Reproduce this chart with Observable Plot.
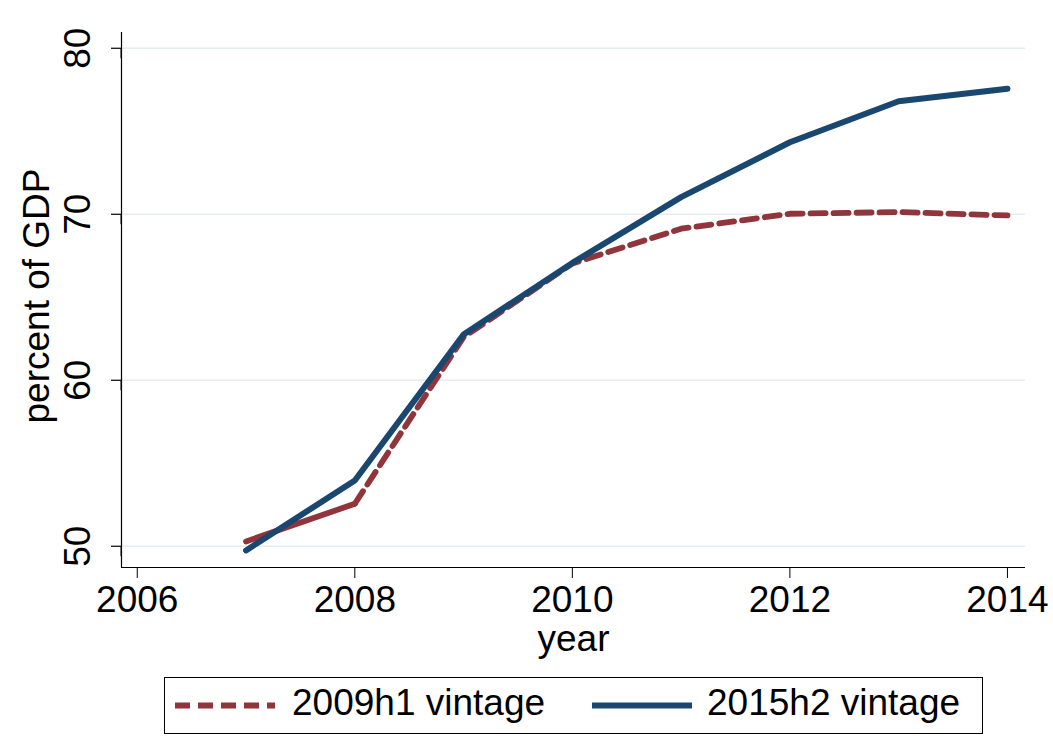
<!DOCTYPE html>
<html>
<head>
<meta charset="utf-8">
<script src="https://cdn.jsdelivr.net/npm/d3@7"></script>
<script src="https://cdn.jsdelivr.net/npm/@observablehq/plot@0.6"></script>
<style>
  body { margin: 0; background: #fff; }
  #chart svg { display: block; }
  #legend { display: block; margin-left: 164px; margin-top: 5px; }
</style>
</head>
<body>
<div id="chart"></div>
<svg id="legend" width="820" height="58"></svg>
<script>
// data
const years = [2007, 2008, 2009, 2010, 2011, 2012, 2013, 2014]
const vintage2009h1 = [50.29, 52.56, 62.6, 67.03, 69.13, 70.03, 70.13, 69.93]
const vintage2015h2 = [49.75, 53.96, 62.76, 67.07, 71.03, 74.34, 76.81, 77.56]
const xTicks = [2006, 2008, 2010, 2012, 2014]
const yTicks = [50, 60, 70, 80]
const seriesNames = ["2009h1 vintage", "2015h2 vintage"]

const red = "#90353b"
const navy = "#1a476f"
const font = "'Liberation Sans', Arial, sans-serif"

const old = years.map((year, i) => ({year, value: vintage2009h1[i]}))
const recent = years.map((year, i) => ({year, value: vintage2015h2[i]}))

const xDomain = [2005.855, 2014.166]
const yDomain = [48.72, 80.95]

const chart = Plot.plot({
  width: 1053,
  height: 672,
  marginLeft: 121,
  marginRight: 28,
  marginTop: 32,
  marginBottom: 105,
  style: {fontFamily: font, fontSize: "37px", color: "#000", background: "#fff"},
  x: {domain: xDomain},
  y: {domain: yDomain},
  marks: [
    Plot.gridY(yTicks, {stroke: "#e4ecef", strokeOpacity: 1, strokeWidth: 1.5}),
    Plot.axisX(xTicks, {tickSize: 11, tickPadding: 7, tickFormat: d => String(d), label: null}),
    Plot.axisY(yTicks, {rotate: -90, textAnchor: "middle", lineAnchor: "bottom", tickSize: 10, tickPadding: 22, label: null}),
    // y tick marks drawn explicitly
    Plot.ruleY(yTicks, {x1: xDomain[0], x2: xDomain[0], insetLeft: -10, stroke: "#000", strokeWidth: 1.2}),
    Plot.ruleX([xDomain[0]], {stroke: "#000", strokeWidth: 1.2}),
    Plot.ruleY([yDomain[0]], {stroke: "#000", strokeWidth: 1.2}),
    Plot.text(["year"], {frameAnchor: "bottom", dy: 83, lineAnchor: "bottom"}),
    Plot.text(["percent of GDP"], {frameAnchor: "left", dx: -73, dy: -4, rotate: -90, textAnchor: "middle", lineAnchor: "bottom"}),
    // 2009h1: actuals solid, then dashed
    Plot.line(old.filter(d => d.year <= 2008), {x: "year", y: "value", stroke: red, strokeWidth: 5.8, strokeLinejoin: "miter"}),
    Plot.line(old.filter(d => d.year >= 2008), {x: "year", y: "value", stroke: red, strokeWidth: 5.8, strokeDasharray: "15,8", strokeLinejoin: "miter"}),
    Plot.line(recent, {x: "year", y: "value", stroke: navy, strokeWidth: 6, strokeLinejoin: "miter"})
  ]
})
d3.select("#chart").append(() => chart)

// legend
const legend = d3.select("#legend")
legend.append("rect")
  .attr("x", 0.5).attr("y", 0.5).attr("width", 818).attr("height", 56)
  .attr("fill", "#fff").attr("stroke", "#000").attr("stroke-width", 1)
const items = [
  {name: seriesNames[0], color: red, dash: "15,8", x0: 11, tx: 128},
  {name: seriesNames[1], color: navy, dash: null, x0: 428, tx: 543}
]
items.forEach(it => {
  legend.append("line")
    .attr("x1", it.x0).attr("x2", it.x0 + 100)
    .attr("y1", 28.5).attr("y2", 28.5)
    .attr("stroke", it.color).attr("stroke-width", 6)
    .attr("stroke-dasharray", it.dash)
  legend.append("text")
    .attr("x", it.tx).attr("y", 38)
    .attr("font-family", font).attr("font-size", 37)
    .text(it.name)
})
</script>
</body>
</html>
